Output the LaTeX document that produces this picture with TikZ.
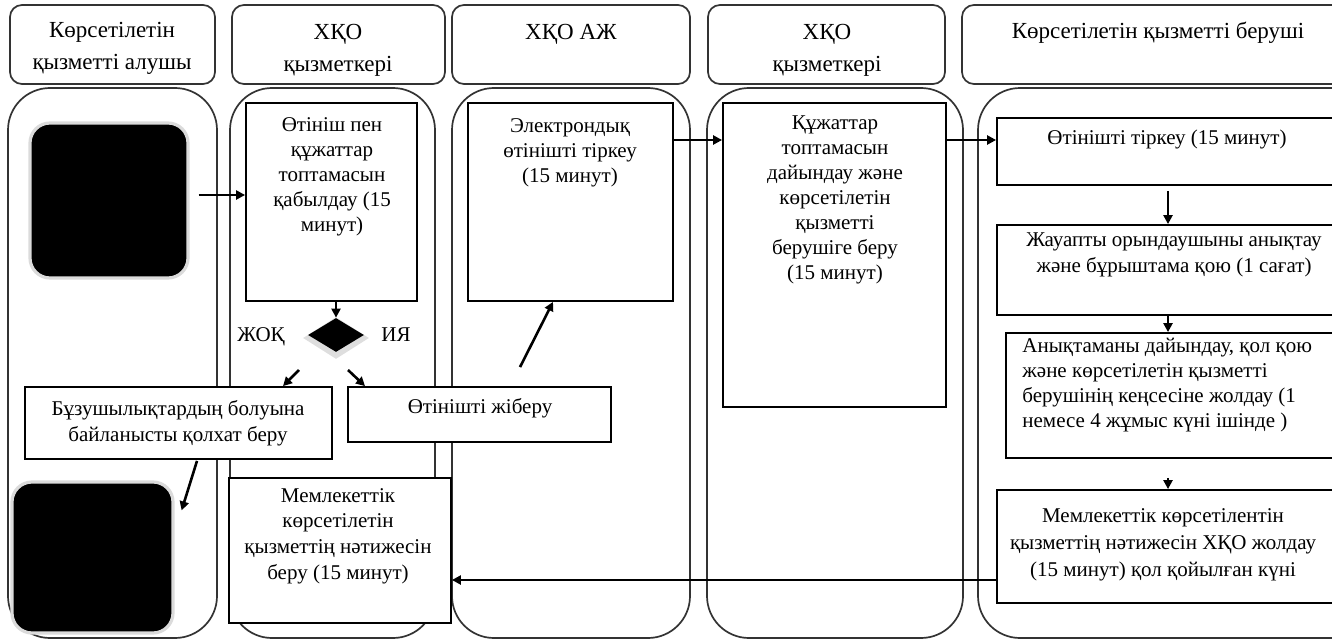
\documentclass[tikz,border=0pt]{standalone}
\usepackage{fontspec}
\setmainfont{Liberation Serif}
\usetikzlibrary{fit,arrows.meta,shapes.geometric}

\tikzset{
  lane/.style={draw=black!80, line width=0.85pt, rounded corners=21pt, inner sep=0pt},
  head/.style={draw=black!80, line width=0.85pt, rounded corners=6pt, inner sep=0pt, fill=white},
  box/.style={draw=black, line width=0.9pt, fill=white, inner sep=0pt},
  term/.style={draw=black!14, line width=1.6pt, fill=black, rounded corners=10pt, inner sep=0pt},
  txt/.style={inner sep=0pt, align=center, font=\fontsize{10.5}{12.5}\selectfont},
  htxt/.style={inner sep=0pt, align=center, font=\fontsize{11.5}{16}\selectfont},
  flow/.style={-{Triangle[length=4.5pt,width=4.5pt]}, line width=1.3pt},
}

\begin{document}
\begin{tikzpicture}[x=0.5pt,y=-0.5pt]
\useasboundingbox (0,0) rectangle (1332,642);
\clip (0,0) rectangle (1332,642);

% swimlanes
\node[lane, fit={(8,88) (217,638)}] (lane1) {};
\node[lane, fit={(230,88) (435,638)}] (lane2) {};
\node[lane, fit={(452,88) (690,638)}] (lane3) {};
\node[lane, fit={(707,88) (963,638)}] (lane4) {};
\node[lane, fit={(978,88) (1420,638)}] (lane5) {};

% lane headers
\node[head, fit={(10,5) (215,84)}] (h1) {};
\node[head, fit={(232,5) (445,84)}] (h2) {};
\node[head, fit={(452,5) (690,84)}] (h3) {};
\node[head, fit={(708,5) (945,84)}] (h4) {};
\node[head, fit={(962,5) (1420,84)}] (h5) {};
\node[htxt, anchor=north] (h1t) at (112,22) {Көрсетілетін\\қызметті алушы};
\node[htxt, anchor=north] (h2t) at (338,24) {ХҚО\\қызметкері};
\node[htxt, anchor=north] (h3t) at (571,24) {ХҚО АЖ};
\node[htxt, anchor=north] (h4t) at (827,24) {ХҚО\\қызметкері};
\node[htxt, anchor=north] (h5t) at (1158,22) {Көрсетілетін қызметті беруші};

% start and end terminals
\node[term, fit={(30,123) (188,278)}] (sq1) {};
\node[term, fit={(12,482) (173,633)}] (sq2) {};

% process boxes
\node[box, fit={(246,103) (417,301)}] (recv) {};
\node[box, fit={(468,103) (673,301)}] (eapp) {};
\node[box, fit={(723,103) (946,407)}] (docs) {};
\node[box, fit={(997,118) (1345,185)}] (reg) {};
\node[box, fit={(997,225) (1345,315)}] (resp) {};
\node[box, fit={(1006,333) (1345,458)}] (cert) {};
\node[box, fit={(997,490) (1345,603)}] (res) {};
\node[box, fit={(25,387) (332,459)}] (viol) {};
\node[box, fit={(348,387) (611,442)}] (send) {};
\node[box, fit={(229,478) (451,623)}] (out) {};

% decision
\node[diamond, fill=black!13, minimum width=33pt, minimum height=21pt, inner sep=0pt] (decS) at (336,338) {};
\node[diamond, fill=black, minimum width=28pt, minimum height=17pt, inner sep=0pt] (dec) at (336,335) {};
\node[inner sep=0pt, anchor=north, font=\fontsize{10.5}{12.5}\selectfont] (no) at (261,327) {ЖОҚ};
\node[inner sep=0pt, anchor=north, font=\fontsize{10.5}{12.5}\selectfont] (yes) at (396,327) {ИЯ};

% box texts
\node[txt, anchor=north] (recvT) at (332,117) {Өтініш пен\\құжаттар\\топтамасын\\қабылдау (15\\минут)};
\node[txt, anchor=north] (eappT) at (570,118) {Электрондық\\өтінішті тіркеу\\(15 минут)};
\node[txt, anchor=north] (docsT) at (835,115) {Құжаттар\\топтамасын\\дайындау және\\көрсетілетін\\қызметті\\берушіге беру\\(15 минут)};
\node[txt, anchor=north] (regT) at (1167,130) {Өтінішті тіркеу (15 минут)};
\node[txt, anchor=north, font=\fontsize{10.5}{13}\selectfont] (respT) at (1174,232) {Жауапты орындаушыны анықтау\\және бұрыштама қою (1 сағат)};
\node[txt, anchor=north west, align=left] (certT) at (1022,338) {Анықтаманы дайындау, қол қою\\және көрсетілетін қызметті\\берушінің кеңсесіне жолдау (1\\немесе 4 жұмыс күні ішінде )};
\node[txt, anchor=north, font=\fontsize{10.5}{13.5}\selectfont] (resT) at (1163,508) {Мемлекеттік көрсетілентін\\қызметтің нәтижесін ХҚО жолдау\\(15 минут) қол қойылған күні};
\node[txt, anchor=north, font=\fontsize{10.5}{13}\selectfont] (violT) at (178,400) {Бұзушылықтардың болуына\\байланысты қолхат беру};
\node[txt, anchor=north] (sendT) at (480,398) {Өтінішті жіберу};
\node[txt, anchor=north, font=\fontsize{10.5}{12.8}\selectfont] (outT) at (338,488) {Мемлекеттік\\көрсетілетін\\қызметтің нәтижесін\\беру (15 минут)};

% connector end points
\coordinate (a1) at ([shift={(9,-5.5)}]sq1.east);
\coordinate (a3) at ([shift={(-37,35)}]dec.center);
\coordinate (b3) at ([shift={(104.5,0)}]viol.north);
\coordinate (a4) at ([shift={(12,35)}]dec.center);
\coordinate (b4) at ([shift={(-114.5,0)}]send.north);
\coordinate (a5) at ([shift={(40.5,-19)}]send.north);
\coordinate (b5) at ([shift={(-17.5,0)}]eapp.south);
\coordinate (a6) at ([shift={(0,-62)}]eapp.east);
\coordinate (a7) at ([shift={(0,-115)}]docs.east);
\coordinate (ax) at (1168,0);
\coordinate (a11) at ([shift={(0,33.5)}]res.west);
\coordinate (a12) at ([shift={(18.5,1)}]viol.south);
\coordinate (b12) at ([shift={(7,30)}]sq2.north east);

% connectors
\draw[flow] (a1) -- (a1 -| recv.west);
\draw[flow] (dec.north |- recv.south) -- (dec.north);
\draw[flow] (a3) -- (b3);
\draw[flow] (a4) -- (b4);
\draw[flow] (a5) -- (b5);
\draw[flow] (a6) -- (a6 -| docs.west);
\draw[flow] (a7) -- (a7 -| reg.west);
\draw[flow] (reg.south -| ax) ++(0,5) -- (resp.north -| ax);
\draw[flow] (resp.south -| ax) -- (cert.north -| ax);
\draw[flow] (cert.south -| ax) ++(0,19) -- (res.north -| ax);
\draw[flow] (a11) -- (a11 -| out.east);
\draw[flow] (a12) -- (b12);
\end{tikzpicture}
\end{document}
